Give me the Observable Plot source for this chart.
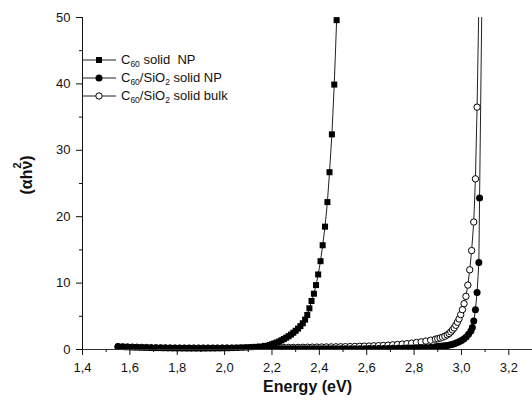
<!DOCTYPE html>
<html>
<head>
<meta charset="utf-8">
<script src="https://cdn.jsdelivr.net/npm/d3@7"></script>
<script src="https://cdn.jsdelivr.net/npm/@observablehq/plot@0.6"></script>
<style>
  html, body { margin: 0; padding: 0; background: #fff; }
  #wrap { position: relative; width: 532px; height: 402px; font-family: "Liberation Sans", Arial, sans-serif; }
  #legend { position: absolute; left: 0; top: 0; font-size: 13px; color: #111; }
  .row { position: absolute; left: 82px; height: 18px; white-space: pre; display: flex; align-items: center; }
  .row svg { display: block; }
  .row span.t { margin-left: 5px; line-height: 18px; }
  sub { font-size: 8.5px; vertical-align: -3px; line-height: 0; }
</style>
</head>
<body>
<div id="wrap">
  <div id="chart"></div>
  <div id="legend"></div>
</div>
<script>
// ---- data ----
// tick labels
const xMajor = [1.4, 1.6, 1.8, 2.0, 2.2, 2.4, 2.6, 2.8, 3.0, 3.2];
const xMinor = [1.5, 1.7, 1.9, 2.1, 2.3, 2.5, 2.7, 2.9, 3.1, 3.3];
const yMajor = [0, 10, 20, 30, 40, 50];
const yMinor = [5, 15, 25, 35, 45];

// series names
const seriesNames = ["C60 solid  NP", "C60/SiO2 solid NP", "C60/SiO2 solid bulk"];

// C60 solid NP (filled squares)
const sqE = [1.55,1.57,1.59,1.61,1.63,1.65,1.67,1.69,1.71,1.73,
             1.75,1.77,1.79,1.81,1.83,1.85,1.87,1.89,1.91,1.93,
             1.95,1.97,1.99,2.01,2.03,2.05,2.07,2.09,2.11,2.13,
             2.15,2.17,2.19,
             2.20,2.21,2.22,2.23,2.24,2.25,2.26,2.27,2.28,2.29,2.30,2.31,2.32,2.33,2.34,
             2.349,2.358,2.367,2.377,2.386,2.395,2.405,2.414,2.424,2.434,2.443,2.453,2.463,2.473];
const sqV = [0.40,0.37,0.34,0.31,0.29,0.27,0.25,0.23,0.22,0.21,
             0.20,0.19,0.18,0.17,0.17,0.16,0.16,0.16,0.16,0.17,
             0.17,0.18,0.19,0.20,0.22,0.24,0.27,0.30,0.35,0.40,
             0.45,0.55,0.68,
             0.80,0.92,1.05,1.20,1.38,1.57,1.78,2.00,2.25,2.52,2.82,3.15,3.52,3.95,4.50,
             5.2,6.2,7.3,8.4,9.7,11.3,13.3,15.7,18.5,22.2,26.7,32.4,39.9,49.6];

// shared energies of the dense low part of both C60/SiO2 series
const cE = [1.55,1.57,1.59,1.61,1.63,1.65,1.67,1.69,1.71,1.73,
            1.75,1.77,1.79,1.81,1.83,1.85,1.87,1.89,1.91,1.93,
            1.95,1.97,1.99,2.01,2.03,2.05,2.07,2.09,2.11,2.13,
            2.15,2.17,2.19,2.21,2.23,2.25,2.27,2.29,2.31,2.33,
            2.35,2.37,2.39,2.41,2.43,2.45,2.47,2.49,2.51,2.53,
            2.55,2.57,2.59,2.61,2.63,2.65,2.67,2.69,2.71,2.73,
            2.75,2.77,2.79,2.81,2.83,2.85,2.87,2.89];

// C60/SiO2 solid NP (filled circles)
const npLowV = [0.35,0.32,0.29,0.27,0.25,0.23,0.21,0.20,0.19,0.18,
                0.17,0.16,0.15,0.15,0.14,0.14,0.13,0.13,0.13,0.12,
                0.12,0.12,0.12,0.12,0.12,0.12,0.12,0.12,0.12,0.12,
                0.12,0.12,0.12,0.12,0.12,0.12,0.12,0.12,0.12,0.12,
                0.12,0.12,0.12,0.12,0.12,0.12,0.12,0.12,0.12,0.13,
                0.13,0.13,0.13,0.14,0.14,0.15,0.15,0.16,0.17,0.18,
                0.19,0.21,0.23,0.25,0.28,0.31,0.35,0.40];
const npTailE = [2.90,2.91,2.92,2.93,2.94,2.95,2.96,2.97,2.98,2.99,3.00,3.01,3.02,3.03,3.04,3.046,3.052,3.059,3.066,3.0735,3.0765,3.0875];
const npTailV = [0.44,0.48,0.52,0.57,0.62,0.68,0.76,0.86,1.00,1.15,1.35,1.60,1.90,2.30,2.80,3.30,4.30,6.00,8.60,13.1,22.8,56];

// C60/SiO2 solid bulk (open circles)
const bulkLowV = [0.45,0.42,0.39,0.36,0.34,0.32,0.30,0.28,0.27,0.26,
                  0.25,0.24,0.23,0.23,0.22,0.22,0.22,0.22,0.22,0.22,
                  0.22,0.22,0.23,0.23,0.23,0.24,0.24,0.25,0.25,0.26,
                  0.26,0.27,0.28,0.28,0.29,0.30,0.30,0.31,0.32,0.33,
                  0.34,0.35,0.36,0.37,0.38,0.39,0.40,0.41,0.42,0.44,
                  0.46,0.48,0.50,0.52,0.55,0.58,0.61,0.65,0.70,0.75,
                  0.81,0.88,0.96,1.05,1.15,1.27,1.40,1.55];
const bulkTailE = [2.90,2.91,2.92,2.93,2.94,2.948,2.955,2.962,2.969,2.976,2.983,2.99,2.997,3.004,3.011,3.019,3.027,3.035,3.043,3.052,3.059,3.066,3.074];
const bulkTailV = [1.62,1.72,1.85,2.00,2.20,2.40,2.65,2.95,3.25,3.65,4.10,4.60,5.25,6.00,6.90,8.00,9.70,12.0,14.9,19.2,25.7,36.5,53];

// ---- build tables ----
const sq = sqE.map((e, i) => ({e, v: sqV[i]}));
const np = cE.map((e, i) => ({e, v: npLowV[i]})).concat(npTailE.map((e, i) => ({e, v: npTailV[i]})));
const bulk = cE.map((e, i) => ({e, v: bulkLowV[i]})).concat(bulkTailE.map((e, i) => ({e, v: bulkTailV[i]})));

const comma = d => d.toFixed(1).replace(".", ",");
const ink = "#111";

const chart = Plot.plot({
  width: 532,
  height: 402,
  marginLeft: 82,
  marginRight: 0,
  marginTop: 17,
  marginBottom: 53,
  x: {domain: [1.4, 3.3], axis: null},
  y: {domain: [0, 50], axis: null},
  style: {fontFamily: "'Liberation Sans', Arial, sans-serif", fontSize: "13px", color: ink, background: "#fff", overflow: "visible"},
  marks: [
    // series (bulk first, filled markers on top)
    Plot.line(bulk, {x: "e", y: "v", stroke: "#222", strokeWidth: 1, clip: true}),
    Plot.dot(bulk, {x: "e", y: "v", r: 3.2, fill: "#fff", stroke: "#000", strokeWidth: 1, clip: true}),
    Plot.line(np, {x: "e", y: "v", stroke: "#222", strokeWidth: 1, clip: true}),
    Plot.dot(np, {x: "e", y: "v", r: 3.5, fill: "#000", stroke: "none", clip: true}),
    Plot.line(sq, {x: "e", y: "v", stroke: "#222", strokeWidth: 1}),
    Plot.dot(sq, {x: "e", y: "v", symbol: "square", r: 3.4, fill: "#000", stroke: "none"}),
    // axes
    Plot.ruleY([0], {stroke: "#333"}),
    Plot.ruleX([1.4], {stroke: ink}),
    Plot.axisX(xMajor, {tickSize: 6, tickPadding: 7, tickFormat: comma, label: null, fontSize: 13}),
    Plot.axisX(xMinor, {tickSize: 3, tickFormat: () => "", label: null}),
    Plot.axisY(yMajor, {tickSize: 6, tickPadding: 6, label: null, fontSize: 13}),
    Plot.axisY(yMinor, {tickSize: 3, tickFormat: () => "", label: null}),
    // axis titles
    Plot.text(["Energy (eV)"], {frameAnchor: "bottom", dy: 42, fontWeight: "bold", fontSize: 16, fill: ink}),
    Plot.text(["(\u03b1h\u03bd)"], {frameAnchor: "left", dx: -56, dy: 11, rotate: -90, fontWeight: "bold", fontSize: 16, fill: ink}),
    Plot.text(["2"], {frameAnchor: "left", dx: -65, dy: -15, rotate: -90, fontWeight: "bold", fontSize: 11, fill: ink})
  ]
});
document.getElementById("chart").appendChild(chart);

// ---- legend (HTML overlay) ----
const legendRows = [
  {label: seriesNames[0], marker: "square", top: 51},
  {label: seriesNames[1], marker: "dot", top: 69},
  {label: seriesNames[2], marker: "circle", top: 87}
];
function fmt(name) {
  return name.replace("C60", "C<sub>60</sub>").replace("SiO2", "SiO<sub>2</sub>");
}
const legend = document.getElementById("legend");
for (const r of legendRows) {
  const row = document.createElement("div");
  row.className = "row";
  row.style.top = r.top + "px";
  let m;
  if (r.marker === "square") m = '<rect x="14" y="6" width="6" height="6" fill="#000"/>';
  else if (r.marker === "dot") m = '<circle cx="17" cy="9" r="3.5" fill="#000"/>';
  else m = '<circle cx="17" cy="9" r="3.2" fill="#fff" stroke="#000" stroke-width="1"/>';
  row.innerHTML = '<svg width="34" height="18"><line x1="0" x2="34" y1="9" y2="9" stroke="#222" stroke-width="1"/>' + m + '</svg>' +
                  '<span class="t">' + fmt(r.label) + '</span>';
  legend.appendChild(row);
}
</script>
</body>
</html>
